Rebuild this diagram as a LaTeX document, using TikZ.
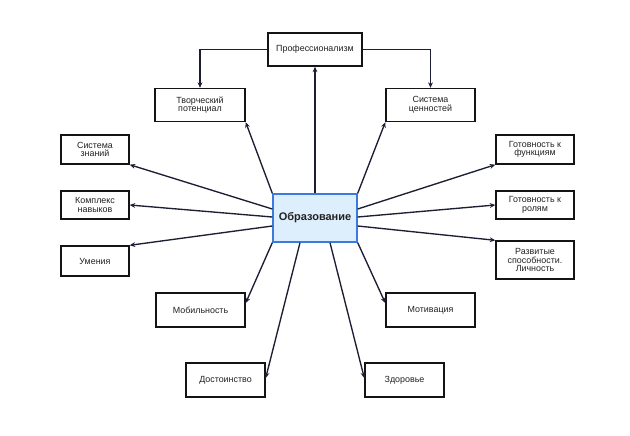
\documentclass[tikz,border=0pt]{standalone}
\usepackage{fontspec}
\setmainfont{Liberation Sans}
\usetikzlibrary{arrows.meta,calc}
\definecolor{linec}{HTML}{1C1F33}
\definecolor{boxc}{HTML}{141414}
\definecolor{txtc}{HTML}{222222}
\definecolor{cfill}{HTML}{DDEEFC}
\definecolor{cborder}{HTML}{3A7BE0}
\tikzset{
  plainbox/.style={draw=boxc, line width=1.4pt, fill=white, align=center, text=txtc,
    font=\fontsize{8.9}{8.5}\selectfont, inner sep=0pt},
  centralbox/.style={draw=cborder, line width=1.4pt, fill=cfill, align=center, text=txtc,
    font=\fontsize{11}{12}\selectfont\bfseries, inner sep=0pt},
  arr/.style={draw=linec, line width=1.35pt, -{Stealth[length=5.5pt,width=4.8pt]}}
}
\begin{document}
\begin{tikzpicture}[x=1pt,y=-1pt]
\useasboundingbox (0,0) rectangle (630,436);
\fill[white] (0,0) rectangle (630,436);
% nodes
\node[centralbox, minimum width=84pt, minimum height=48pt] (edu) at (315,218) {Образование};
\node[plainbox, minimum width=94pt, minimum height=33pt] (prof) at (315,49.5) {Профессионализм};
\node[plainbox, minimum width=90pt, minimum height=33pt] (tvor) at (200,105) {Творческий\\потенциал};
\node[plainbox, minimum width=89pt, minimum height=33pt] (cenn) at (430.5,105) {Система\\ценностей};
\node[plainbox, minimum width=68pt, minimum height=29pt] (znan) at (95,149.5) {Система\\знаний};
\node[plainbox, minimum width=68pt, minimum height=28pt] (navyk) at (95,205) {Комплекс\\навыков};
\node[plainbox, minimum width=68pt, minimum height=30pt] (umen) at (95,261) {Умения};
\node[plainbox, minimum width=78pt, minimum height=29pt] (func) at (535,149.5) {Готовность к\\функциям};
\node[plainbox, minimum width=78pt, minimum height=28pt] (rol) at (535,205) {Готовность к\\ролям};
\node[plainbox, minimum width=78pt, minimum height=38pt] (razv) at (535,260) {Развитые\\способности.\\Личность};
\node[plainbox, minimum width=89pt, minimum height=34pt] (mob) at (200.5,310) {Мобильность};
\node[plainbox, minimum width=89pt, minimum height=34pt] (motiv) at (430.5,310) {Мотивация};
\node[plainbox, minimum width=79pt, minimum height=34pt] (dost) at (225.5,380) {Достоинство};
\node[plainbox, minimum width=79pt, minimum height=34pt] (zdor) at (404.5,380) {Здоровье};
% connectors
\draw[arr] (prof.west) -| (tvor.north);
\draw[arr] (prof.east) -| (cenn.north);
\draw[arr] (edu.north) -- (prof.south);
\draw[arr] (edu.north west) -- (tvor.south east);
\draw[arr] (edu.north east) -- (cenn.south west);
\draw[arr] ([yshift=9pt]edu.west) -- (znan.south east);
\draw[arr] ([yshift=1pt]edu.west) -- (navyk.east);
\draw[arr] ([yshift=-8pt]edu.west) -- (umen.north east);
\draw[arr] ([yshift=9pt]edu.east) -- (func.south west);
\draw[arr] ([yshift=1pt]edu.east) -- (rol.west);
\draw[arr] ([yshift=-8pt]edu.east) -- (razv.north west);
\draw[arr] (edu.south west) -- ([yshift=7pt]mob.east);
\draw[arr] ([xshift=-15pt]edu.south) -- ([yshift=2pt]dost.east);
\draw[arr] ([xshift=15pt]edu.south) -- ([yshift=2pt]zdor.west);
\draw[arr] (edu.south east) -- ([yshift=7pt]motiv.west);
\end{tikzpicture}
\end{document}
